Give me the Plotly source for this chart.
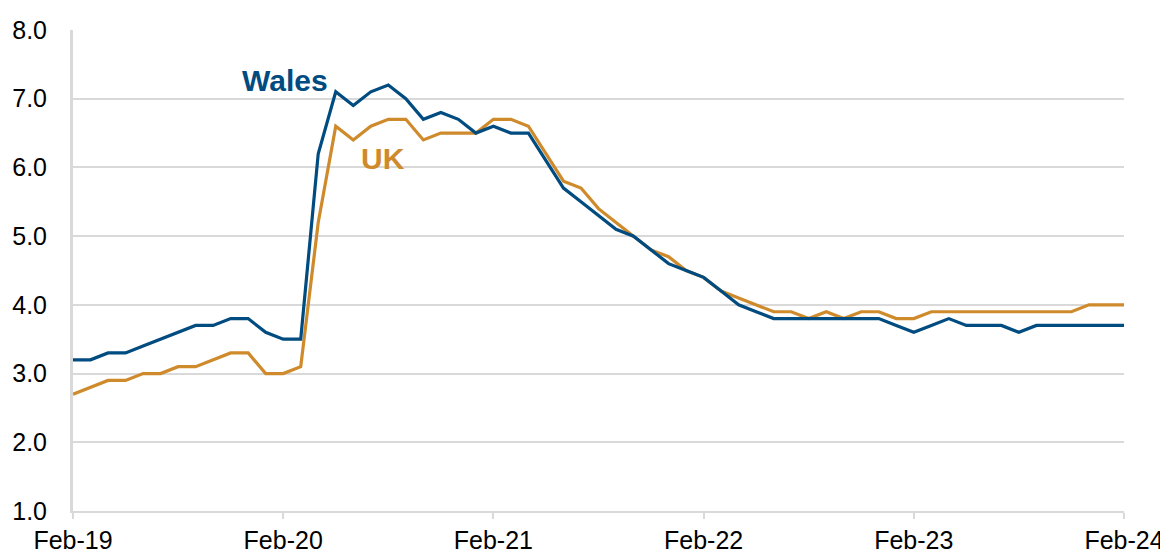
import plotly.graph_objects as go

# Monthly labels Feb-19 .. Feb-24
month_names = ["Jan", "Feb", "Mar", "Apr", "May", "Jun", "Jul", "Aug", "Sep", "Oct", "Nov", "Dec"]
months = []
y, m = 2019, 1
for _ in range(61):
    months.append(f"{month_names[m]}-{str(y)[2:]}")
    m += 1
    if m == 12:
        m = 0
        y += 1

tick_labels = ["Feb-19", "Feb-20", "Feb-21", "Feb-22", "Feb-23", "Feb-24"]

wales = [3.2, 3.2, 3.3, 3.3, 3.4, 3.5, 3.6, 3.7, 3.7, 3.8, 3.8, 3.6, 3.5, 3.5,
         6.2, 7.1, 6.9, 7.1, 7.2, 7.0, 6.7, 6.8, 6.7, 6.5, 6.6, 6.5,
         6.5, 6.1, 5.7, 5.5, 5.3, 5.1, 5.0, 4.8, 4.6, 4.5, 4.4, 4.2, 4.0,
         3.9, 3.8, 3.8, 3.8, 3.8, 3.8, 3.8, 3.8, 3.7, 3.6, 3.7,
         3.8, 3.7, 3.7, 3.7, 3.6, 3.7, 3.7, 3.7, 3.7, 3.7, 3.7]

uk = [2.7, 2.8, 2.9, 2.9, 3.0, 3.0, 3.1, 3.1, 3.2, 3.3, 3.3, 3.0, 3.0, 3.1,
      5.2, 6.6, 6.4, 6.6, 6.7, 6.7, 6.4, 6.5, 6.5, 6.5, 6.7, 6.7,
      6.6, 6.2, 5.8, 5.7, 5.4, 5.2, 5.0, 4.8, 4.7, 4.5, 4.4, 4.2, 4.1,
      4.0, 3.9, 3.9, 3.8, 3.9, 3.8, 3.9, 3.9, 3.8, 3.8, 3.9,
      3.9, 3.9, 3.9, 3.9, 3.9, 3.9, 3.9, 3.9, 4.0, 4.0, 4.0]

WALES_C = "#004B7F"
UK_C = "#CF8A2C"
GRID_C = "#D9D9D9"
FONT = "Liberation Sans, Arial, sans-serif"

fig = go.Figure()
fig.add_trace(go.Scatter(x=months, y=uk, mode="lines", name="UK",
                         line=dict(color=UK_C, width=3.2)))
fig.add_trace(go.Scatter(x=months, y=wales, mode="lines", name="Wales",
                         line=dict(color=WALES_C, width=3.2)))

fig.add_annotation(text="<b>Wales</b>", x=0.2017, y=0.895, xref="paper", yref="paper",
                   xanchor="center", yanchor="middle",
                   showarrow=False, font=dict(family=FONT, size=30, color=WALES_C))
fig.add_annotation(text="<b>UK</b>", x=0.295, y=0.732, xref="paper", yref="paper",
                   xanchor="center", yanchor="middle",
                   showarrow=False, font=dict(family=FONT, size=30, color=UK_C))

# page body has an 8px default margin, so the figure is sized to fit the window
fig.update_layout(
    width=1160, height=546,
    margin=dict(l=65, r=44, t=22, b=43, autoexpand=False),
    plot_bgcolor="white", paper_bgcolor="white",
    showlegend=False,
    font=dict(family=FONT, size=25, color="#000000"),
    xaxis=dict(
        type="category", range=[0, 60],
        tickmode="array", tickvals=tick_labels, ticktext=tick_labels,
        showgrid=False, showline=True, linecolor=GRID_C, linewidth=2,
        ticks="outside", ticklen=6, tickwidth=2, tickcolor=GRID_C,
        ticklabelstandoff=0, automargin=False,
        zeroline=False,
    ),
    yaxis=dict(
        range=[1, 8], dtick=1, tick0=1, tickformat=".1f",
        showgrid=True, gridcolor=GRID_C, gridwidth=1.5,
        showline=True, linecolor=GRID_C, linewidth=3,
        ticks="", ticklabelstandoff=18, automargin=False,
        zeroline=False,
    ),
)

fig.write_html("out.html")
